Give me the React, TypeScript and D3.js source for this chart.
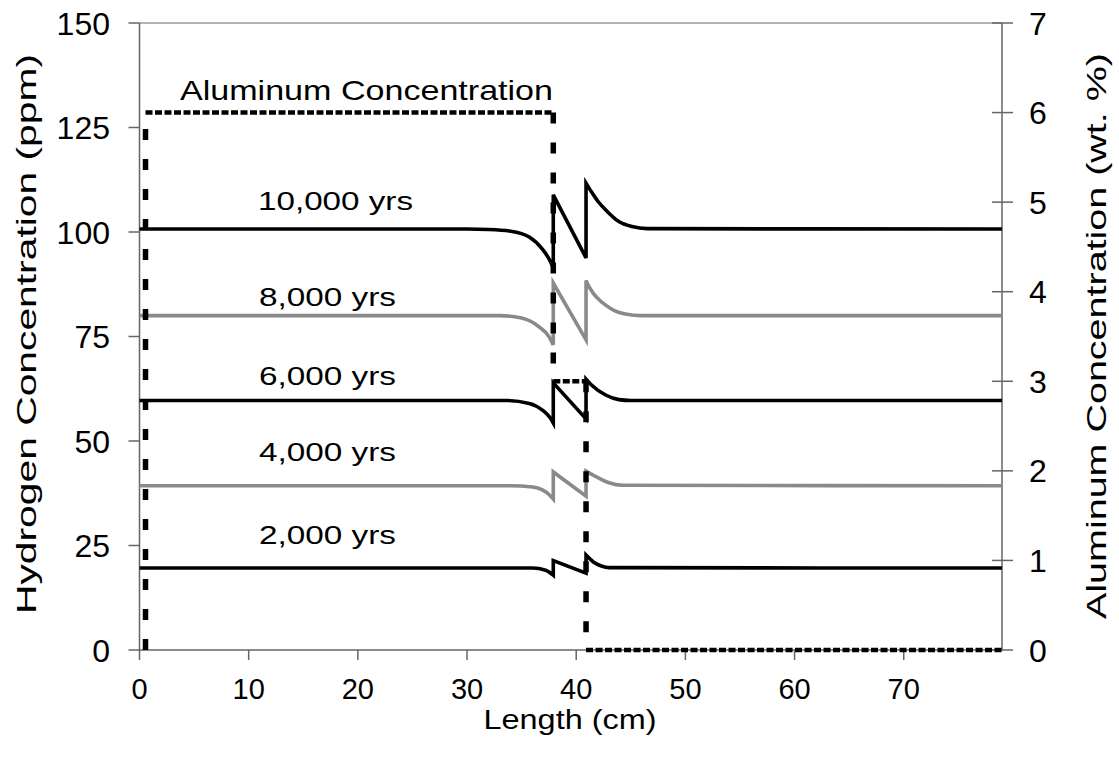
import React from "react";
import * as d3 from "d3";

const xTicks = [0, 10, 20, 30, 40, 50, 60, 70];
const hTicks = [0, 25, 50, 75, 100, 125, 150];
const alTicks = [0, 1, 2, 3, 4, 5, 6, 7];

const h10000: [number, number][] = [[0, 100.7], [30, 100.7], [32, 100.6], [34, 100.2], [35.7, 98.8], [36.9, 95.9], [37.5, 93.6], [37.9, 91.4], [37.9, 108.9], [40.9, 93.8], [40.9, 111.7], [41.4, 109.6], [42, 107.3], [42.7, 105.3], [43.9, 102.5], [45.1, 101.3], [46.5, 100.8], [79, 100.7]];
const h8000: [number, number][] = [[0, 80], [33, 80], [35, 79.4], [36.6, 77.3], [37.5, 75], [37.9, 73], [37.9, 87.8], [40.9, 74.2], [40.9, 88.4], [41.2, 86.8], [41.6, 85.2], [42.1, 83.8], [42.7, 82.5], [43.5, 81.2], [44.5, 80.4], [46, 80], [79, 80]];
const h6000: [number, number][] = [[0, 59.7], [33.5, 59.7], [35.7, 59.0], [36.9, 57.4], [37.6, 55.6], [37.9, 54.3], [37.9, 63.9], [40.9, 55.3], [40.9, 64.8], [41.4, 63.4], [42.7, 61.0], [43.9, 59.9], [45, 59.7], [79, 59.7]];
const h4000: [number, number][] = [[0, 39.3], [34, 39.3], [36, 39.0], [36.9, 38.3], [37.5, 37.2], [37.9, 36.1], [37.9, 42.6], [40.9, 36.8], [40.9, 42.8], [41.8, 41.5], [43, 40.0], [44.2, 39.4], [79, 39.3]];
const h2000: [number, number][] = [[0, 19.6], [36, 19.6], [37.2, 19.1], [37.9, 17.9], [37.9, 21.4], [40.9, 18.4], [40.9, 22.7], [41.6, 21.0], [42.3, 20.1], [43, 19.7], [79, 19.6]];
const aluminum: [number, number][] = [[0.55, 0], [0.55, 6], [37.9, 6], [37.9, 3], [40.9, 3], [40.9, 0], [79, 0]];

const seriesNames = ["10,000 yrs", "8,000 yrs", "6,000 yrs", "4,000 yrs", "2,000 yrs"];
const seriesData = [h10000, h8000, h6000, h4000, h2000];
const seriesColors = ["#000000", "#8a8a8a", "#000000", "#8a8a8a", "#000000"];
const labelBaselines = [210, 306, 385, 461, 544];

const W = 1119, H = 759;
const left = 139.5, right = 1002, top = 23, bottom = 650;

export default function App() {
  const x = d3.scaleLinear().domain([0, 79]).range([left, right]);
  const y = d3.scaleLinear().domain([0, 150]).range([bottom, top]);
  const y2 = d3.scaleLinear().domain([0, 7]).range([bottom, top]);

  const pathFor = (pts: [number, number][]) => {
    const runs: [number, number][][] = [];
    let cur: [number, number][] = [];
    pts.forEach((p, i) => {
      if (i > 0 && p[0] === pts[i - 1][0]) {
        runs.push(cur);
        cur = [];
      }
      cur.push(p);
    });
    runs.push(cur);
    let d = "";
    runs.forEach((run, i) => {
      const ln = d3
        .line<[number, number]>()
        .x((p) => x(p[0]))
        .y((p) => y(p[1]))
        .curve(run.length > 2 ? d3.curveMonotoneX : d3.curveLinear);
      let s = ln(run) || "";
      if (i > 0) s = "L" + s.slice(1);
      d += s;
    });
    return d;
  };

  const alSegs = aluminum.slice(1).map((p, i) => {
    const a = aluminum[i];
    const vertical = a[0] === p[0];
    return { x1: x(a[0]), y1: y2(a[1]), x2: x(p[0]), y2: y2(p[1]), vertical };
  });

  const font = "'Liberation Sans', Arial, sans-serif";

  return (
    <svg width={W} height={H} style={{ position: "absolute", left: 0, top: 0, background: "#fff" }} fontFamily={font}>
      <rect x={0} y={0} width={W} height={H} fill="#fff" />
      <line x1={left} x2={right} y1={top} y2={top} stroke="#9a9a9a" strokeWidth={1.5} />
      <line x1={left} x2={left} y1={top} y2={bottom} stroke="#666" strokeWidth={1.5} />
      <line x1={right} x2={right} y1={top} y2={bottom} stroke="#666" strokeWidth={1.5} />
      <line x1={left} x2={right} y1={bottom} y2={bottom} stroke="#666" strokeWidth={1.5} />
      {hTicks.map((t) => (
        <g key={"h" + t}>
          <line x1={left - 11} x2={left} y1={y(t)} y2={y(t)} stroke="#666" strokeWidth={1.5} />
          <text x={110} y={y(t)} dy="0.36em" textAnchor="end" fontSize={32}>{t}</text>
        </g>
      ))}
      {alTicks.map((t) => (
        <g key={"a" + t}>
          <line x1={right - 10} x2={right + 11} y1={y2(t)} y2={y2(t)} stroke="#666" strokeWidth={1.5} />
          <text x={1029} y={y2(t)} dy="0.36em" textAnchor="start" fontSize={32}>{t}</text>
        </g>
      ))}
      {xTicks.map((t) => (
        <g key={"x" + t}>
          <line x1={x(t)} x2={x(t)} y1={bottom} y2={bottom + 10} stroke="#666" strokeWidth={1.5} />
          <text x={x(t)} y={699} textAnchor="middle" fontSize={29}>{t}</text>
        </g>
      ))}
      <text x={570} y={729} textAnchor="middle" fontSize={27} textLength={173} lengthAdjust="spacingAndGlyphs">Length (cm)</text>
      <text transform={`translate(36,334) rotate(-90)`} textAnchor="middle" fontSize={28} textLength={560} lengthAdjust="spacingAndGlyphs">Hydrogen Concentration (ppm)</text>
      <text transform={`translate(1106,336) rotate(-90)`} textAnchor="middle" fontSize={28} textLength={566} lengthAdjust="spacingAndGlyphs">Aluminum Concentration (wt. %)</text>

      {seriesData.map((s, i) => (
        <path key={"s" + i} d={pathFor(s)} fill="none" stroke={seriesColors[i]} strokeWidth={3.6} strokeLinejoin="miter" />
      ))}
      {seriesNames.map((n, i) => (
        <text key={"l" + i} x={i === 0 ? 258 : 259} y={labelBaselines[i]} fontSize={26} textLength={i === 0 ? 155 : 137} lengthAdjust="spacingAndGlyphs">{n}</text>
      ))}
      {alSegs.map((s, i) => (
        <line key={"al" + i} x1={s.x1} y1={s.y1} x2={s.x2} y2={s.y2} stroke="#000"
          strokeWidth={s.vertical ? 5.5 : 4.5} strokeDasharray={s.vertical ? "11 19" : "7 2.5"} />
      ))}
      <text x={180} y={100} fontSize={28} textLength={373} lengthAdjust="spacingAndGlyphs">Aluminum Concentration</text>
    </svg>
  );
}
